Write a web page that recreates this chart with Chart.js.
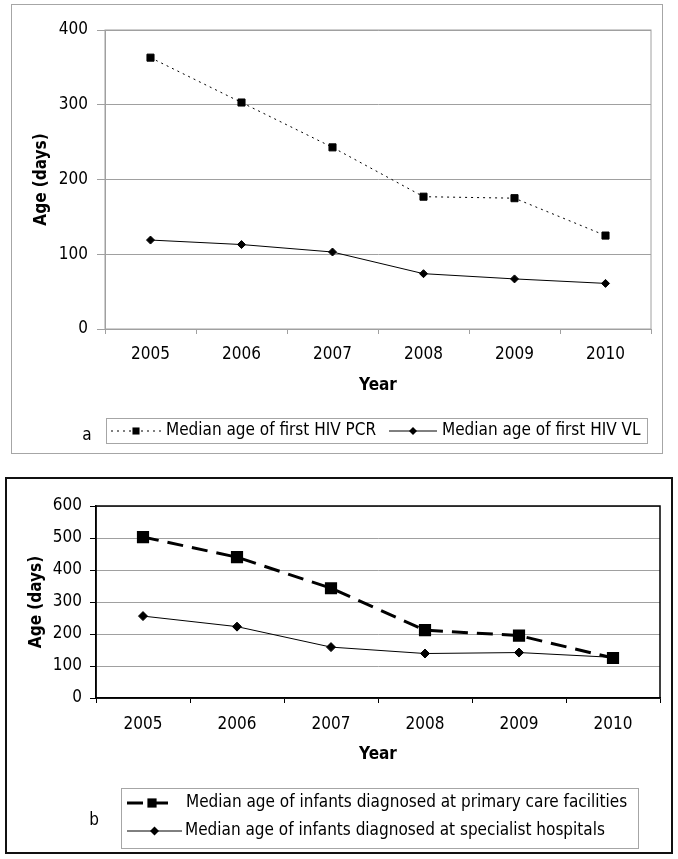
<!DOCTYPE html>
<html>
<head>
<meta charset="utf-8">
<script src="https://cdn.jsdelivr.net/npm/chart.js@4.4.1/dist/chart.umd.min.js"></script>
<style>
  html, body { margin: 0; padding: 0; background: #fff; }
  body { width: 678px; height: 859px; position: relative; overflow: hidden; }
  .frame { position: absolute; box-sizing: border-box; }
  #frameA { left: 11px; top: 4px; width: 652px; height: 450px; border: 1px solid #a6a6a6; }
  #frameB { left: 5px; top: 477px; width: 668px; height: 377px; border: 2px solid #111; }
  canvas { position: absolute; left: 0; }
  #chartA { top: 0; }
  #chartB { top: 460px; }
</style>
</head>
<body>
<div class="frame" id="frameA"></div>
<div class="frame" id="frameB"></div>
<canvas id="chartA" width="678" height="460"></canvas>
<canvas id="chartB" width="678" height="399"></canvas>
<script>
// data
const years = ['2005', '2006', '2007', '2008', '2009', '2010'];
const pcrMedian = [363, 303, 243, 177, 175, 125];
const vlMedian = [119, 113, 103, 74, 67, 61];
const primaryCare = [503, 440, 343, 212, 195, 125];
const specialistHosp = [256, 223, 159, 139, 142, 127];

const labelsA = ['Median age of first HIV PCR', 'Median age of first HIV VL'];
const labelsB = ['Median age of infants diagnosed at primary care facilities',
                 'Median age of infants diagnosed at specialist hospitals'];

const FONT = "'DejaVu Sans Condensed', 'DejaVu Sans', sans-serif";

// draws the marker used in the legend sample
function drawMarker(ctx, style, x, y, r) {
  ctx.beginPath();
  if (style === 'rect') {
    const s = Math.SQRT1_2 * r;
    ctx.rect(x - s, y - s, 2 * s, 2 * s);
  } else {
    ctx.moveTo(x - r, y);
    ctx.lineTo(x, y - r);
    ctx.lineTo(x + r, y);
    ctx.lineTo(x, y + r);
    ctx.closePath();
  }
  ctx.fillStyle = '#000';
  ctx.fill();
}

// frame around plot area + boxed legend with panel letter
const boxLegend = {
  id: 'boxLegend',
  afterDraw(chart) {
    const cfg = chart.options.plugins.boxLegend;
    if (!cfg) return;
    const ctx = chart.ctx;
    const a = chart.chartArea;
    ctx.save();
    ctx.strokeStyle = cfg.frameColor;
    ctx.lineWidth = cfg.frameWidth;
    ctx.strokeRect(a.left, a.top, a.right - a.left, a.bottom - a.top);

    const [bx, by, bw, bh] = cfg.box;
    ctx.strokeStyle = '#a6a6a6';
    ctx.lineWidth = 1;
    ctx.strokeRect(bx + 0.5, by + 0.5, bw, bh);

    ctx.textBaseline = 'middle';
    ctx.textAlign = 'left';
    cfg.items.forEach((it, i) => {
      const ds = chart.data.datasets[i];
      ctx.beginPath();
      ctx.setLineDash(ds.borderDash || []);
      ctx.lineWidth = ds.borderWidth;
      ctx.strokeStyle = '#000';
      ctx.moveTo(it.x0, it.y);
      ctx.lineTo(it.x1, it.y);
      ctx.stroke();
      ctx.setLineDash([]);
      drawMarker(ctx, ds.pointStyle, (it.x0 + it.x1) / 2, it.y, ds.pointRadius);
      ctx.font = cfg.fontSize + 'px ' + FONT;
      ctx.fillStyle = '#000';
      ctx.fillText(ds.label, it.tx, it.y);
    });
    ctx.font = '17px ' + FONT;
    ctx.textAlign = 'center';
    ctx.fillText(cfg.tag.text, cfg.tag.x, cfg.tag.y);
    ctx.restore();
  }
};

function makeChart(id, opts) {
  return new Chart(document.getElementById(id), {
    type: 'line',
    data: { labels: years, datasets: opts.datasets },
    options: {
      responsive: false,
      animation: false,
      layout: { padding: opts.padding },
      plugins: {
        legend: { display: false },
        tooltip: { enabled: false },
        boxLegend: opts.legend
      },
      scales: {
        x: {
          offset: true,
          grid: { offset: true, drawOnChartArea: false, tickLength: 5, color: opts.axisColor },
          border: { color: opts.axisColor, width: opts.axisWidth },
          ticks: { color: '#000', padding: opts.xPad, font: { family: FONT, size: 17 } },
          title: { display: true, text: 'Year', color: '#000',
                   font: { family: FONT, size: 17, weight: 'bold' },
                   padding: { top: 0, bottom: opts.xTitlePad } },
          afterFit: s => { s.height = opts.xHeight; }
        },
        y: {
          min: 0, max: opts.yMax,
          ticks: { stepSize: 100, color: '#000', padding: opts.yPad, font: { family: FONT, size: 17 } },
          grid: { color: '#a0a0a0', tickLength: opts.yTick, tickColor: opts.axisColor },
          border: { color: opts.axisColor, width: opts.axisWidth },
          title: { display: true, text: 'Age (days)', color: '#000',
                   font: { family: FONT, size: 17, weight: 'bold' },
                   padding: { top: opts.yTitlePad, bottom: 0 } },
          afterFit: s => { s.width = opts.yWidth; }
        }
      }
    },
    plugins: [boxLegend]
  });
}

makeChart('chartA', {
  datasets: [
    { label: labelsA[0], data: pcrMedian, borderColor: '#000', backgroundColor: '#000',
      borderWidth: 1, borderDash: [2, 4], pointStyle: 'rect', pointRadius: 5, tension: 0 },
    { label: labelsA[1], data: vlMedian, borderColor: '#000', backgroundColor: '#000',
      borderWidth: 1, pointStyle: 'rectRot', pointRadius: 4, tension: 0 }
  ],
  padding: { left: 0, top: 30, right: 27, bottom: 0 },
  yMax: 400, yWidth: 105, xHeight: 131,
  yTick: 8, yPad: 9, xPad: 10,
  xTitlePad: 64, yTitlePad: 31,
  axisColor: '#a0a0a0', axisWidth: 1,
  legend: {
    frameColor: '#a0a0a0', frameWidth: 1, fontSize: 17,
    box: [106, 418, 541, 25],
    items: [
      { x0: 111, x1: 161, y: 431, tx: 166 },
      { x0: 389, x1: 437, y: 431, tx: 442 }
    ],
    tag: { text: 'a', x: 87, y: 436 }
  }
});

makeChart('chartB', {
  datasets: [
    { label: labelsB[0], data: primaryCare, borderColor: '#000', backgroundColor: '#000',
      borderWidth: 3, borderDash: [16, 9], pointStyle: 'rect', pointRadius: 6.5, tension: 0 },
    { label: labelsB[1], data: specialistHosp, borderColor: '#000', backgroundColor: '#000',
      borderWidth: 1, pointStyle: 'rectRot', pointRadius: 4.5, tension: 0 }
  ],
  padding: { left: 0, top: 46, right: 18, bottom: 0 },
  yMax: 600, yWidth: 96, xHeight: 161,
  yTick: 6, yPad: 8, xPad: 11,
  xTitlePad: 94, yTitlePad: 26,
  axisColor: '#000', axisWidth: 1.5,
  legend: {
    frameColor: '#000', frameWidth: 1.5, fontSize: 17,
    box: [121, 328, 517, 60],
    items: [
      { x0: 127, x1: 177, y: 343, tx: 186 },
      { x0: 127, x1: 182, y: 371, tx: 185 }
    ],
    tag: { text: 'b', x: 94, y: 361 }
  }
});
</script>
</body>
</html>
